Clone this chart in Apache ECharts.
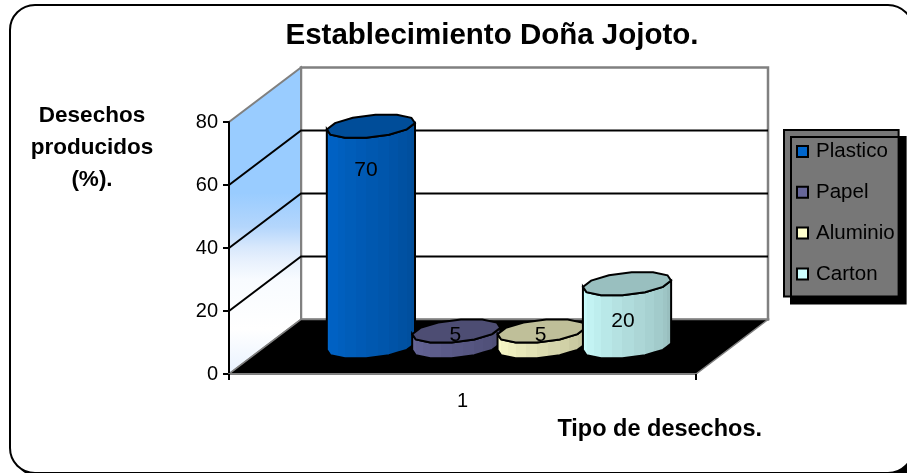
<!DOCTYPE html>
<html>
<head>
<meta charset="utf-8">
<style>html,body{margin:0;padding:0;background:#fff}#c{width:907px;height:473px}</style>
<script src="https://cdn.jsdelivr.net/npm/echarts@6/dist/echarts.min.js"></script>
</head>
<body>
<div id="c"></div>
<script>
const categories = ['1'];
const seriesNames = ['Plastico', 'Papel', 'Aluminio', 'Carton'];
const seriesValues = [70, 5, 5, 20];
const yTicks = [0, 20, 40, 60, 80];

// Styling and projection
const FONT = '"Liberation Sans", Arial, sans-serif';
const sideColors = [[0, 102, 204], [102, 102, 153], [255, 255, 204], [204, 255, 255]];
const DEPTH = [72, -54.5];      // px shift from the front to the back of the plot
const GAP = 1.47;               // gap width in units of a bar
const CAP_DEPTH = 0.44;         // cylinder diameter as a fraction of the plot depth
const DARK = 0.75;
const labelShift = [[-5, 44], [-1, 4], [-1, 4], [-4, 37]];

const rgb = (c, f) => 'rgb(' + c.map(v => Math.round(v * f)).join(',') + ')';

function projector(api) {
  const c = api.coord([0, 0]);
  const band = api.size([1, 0])[0];
  const x0 = c[0] - band / 2;
  return (fx, value, d) => {
    const y = api.coord([0, value])[1];
    return [x0 + band * fx + DEPTH[0] * d, y + DEPTH[1] * d];
  };
}

function renderWalls(params, api) {
  const P = projector(api);
  const top = yTicks[yTicks.length - 1];
  const children = [];
  const grey = '#808080';
  children.push({
    type: 'polygon',
    shape: { points: [P(0, 0, 1), P(1, 0, 1), P(1, top, 1), P(0, top, 1)] },
    style: { fill: '#fff', stroke: grey, lineWidth: 2.5 }
  });
  children.push({
    type: 'polygon',
    shape: { points: [P(0, 0, 0), P(0, 0, 1), P(0, top, 1), P(0, top, 0)] },
    style: {
      stroke: grey, lineWidth: 2,
      fill: {
        type: 'linear', x: 0, y: 0, x2: 0, y2: 1,
        colorStops: [
          { offset: 0, color: '#99ccff' }, { offset: 0.41, color: '#99ccff' },
          { offset: 0.52, color: '#b4d6fc' }, { offset: 0.586, color: '#d8e8fc' },
          { offset: 0.63, color: '#e8f1fd' }, { offset: 0.69, color: '#f8fbff' },
          { offset: 0.85, color: '#ffffff' }, { offset: 1, color: '#e8f2ff' }
        ]
      }
    }
  });
  children.push({
    type: 'polygon',
    shape: { points: [P(0, 0, 0), P(1, 0, 0), P(1, 0, 1), P(0, 0, 1)] },
    style: { fill: '#000', stroke: grey, lineWidth: 1.5 }
  });
  yTicks.slice(1, -1).forEach(v => {
    children.push({
      type: 'polyline',
      shape: { points: [P(0, v, 0), P(0, v, 1), P(1, v, 1)] },
      style: { fill: 'none', stroke: '#000', lineWidth: 2 }
    });
  });
  return { type: 'group', children };
}

function renderBar(idx) {
  return function (params, api) {
    const P = projector(api);
    const value = api.value(1);
    const n = seriesValues.length;
    const unit = 1 / (n + GAP);
    const cx = (GAP / 2 + idx + 0.5) * unit + 0.001;
    const a = unit * 0.485;
    const ring = (v) => {
      const base = P(cx, v, 0.5);
      const band = P(1, v, 0)[0] - P(0, v, 0)[0];
      const pts = [];
      for (let k = 0; k < 12; k++) {
        const t = (15 + 30 * k) * Math.PI / 180;
        pts.push([
          base[0] + band * a * Math.cos(t) + DEPTH[0] * CAP_DEPTH / 2 * Math.sin(t),
          base[1] + DEPTH[1] * CAP_DEPTH / 2 * Math.sin(t)
        ]);
      }
      return pts;
    };
    const topR = ring(value), botR = ring(0);
    // front of the ring, from the left extreme (k=6) round the lower side to the right extreme (k=0)
    const path = [6, 7, 8, 9, 10, 11, 12];
    const mid = (p, q) => [(p[0] + q[0]) / 2, (p[1] + q[1]) / 2];
    const frontTop = [], frontBot = [];
    path.forEach((k, i) => {
      frontTop.push(topR[k % 12]); frontBot.push(botR[k % 12]);
      if (i < path.length - 1) {
        frontTop.push(mid(topR[k % 12], topR[(k + 1) % 12]));
        frontBot.push(mid(botR[k % 12], botR[(k + 1) % 12]));
      }
    });
    const color = sideColors[idx];
    const xL = frontTop[0][0], xR = frontTop[frontTop.length - 1][0];
    const stops = [];
    for (let i = 0; i < frontTop.length - 1; i++) {
      const f = 1 - (1 - DARK) * i / (frontTop.length - 2);
      const c = rgb(color, f);
      stops.push({ offset: (frontTop[i][0] - xL) / (xR - xL), color: c });
      stops.push({ offset: (frontTop[i + 1][0] - xL) / (xR - xL), color: c });
    }
    const children = [];
    children.push({
      type: 'polygon',
      shape: { points: frontTop.concat(frontBot.slice().reverse()) },
      style: {
        stroke: '#000', lineWidth: 2,
        fill: { type: 'linear', global: true, x: xL, y: 0, x2: xR, y2: 0, colorStops: stops }
      }
    });
    children.push({
      type: 'polygon',
      shape: { points: topR },
      style: { fill: rgb(color, DARK), stroke: '#000', lineWidth: 2 }
    });
    const c = P(cx, value, 0.5);
    children.push({
      type: 'text',
      style: {
        text: String(value),
        x: c[0] + labelShift[idx][0], y: c[1] + labelShift[idx][1],
        align: 'center', verticalAlign: 'middle',
        fontFamily: FONT, fontSize: 21, fill: '#000'
      }
    });
    return { type: 'group', children };
  };
}

const chart = echarts.init(document.getElementById('c'), null, { renderer: 'canvas' });
chart.setOption({
  animation: false,
  backgroundColor: '#fff',
  textStyle: { fontFamily: FONT },
  title: {
    text: 'Establecimiento Doña Jojoto.',
    left: 487, top: 16, textAlign: 'center',
    textStyle: { fontFamily: FONT, fontSize: 29.5, fontWeight: 'bold', color: '#000' }
  },
  graphic: [{
    type: 'rect', z: -2,
    shape: { x: 15, y: 10, width: 903, height: 468, r: 25 },
    style: { fill: '#000' }
  }, {
    type: 'rect', z: -1,
    shape: { x: 10, y: 5, width: 903, height: 468, r: 25 },
    style: { fill: '#fff', stroke: '#000', lineWidth: 2 }
  }],
  grid: { left: 229, top: 122, width: 467, height: 252, containLabel: false },
  legend: {
    data: seriesNames,
    orient: 'vertical',
    left: 784, top: 130,
    padding: [11, 4, 12, 12],
    itemGap: 19.8,
    itemWidth: 11, itemHeight: 11,
    icon: 'rect',
    backgroundColor: '#777777',
    borderColor: '#000', borderWidth: 2,
    shadowColor: '#000', shadowOffsetX: 7, shadowOffsetY: 7, shadowBlur: 0,
    textStyle: { fontFamily: FONT, fontSize: 20.5, color: '#000', padding: [0, 0, 0, 3] }
  },
  xAxis: {
    type: 'category',
    data: categories,
    name: 'Tipo de desechos.',
    nameLocation: 'end',
    nameGap: 66,
    nameMoveOverlap: false,
    nameTextStyle: { fontFamily: FONT, fontSize: 23.5, fontWeight: 'bold', color: '#000', align: 'right', verticalAlign: 'top', padding: [44, 0, 0, 0] },
    axisLine: { lineStyle: { color: '#808080', width: 2 } },
    axisTick: { show: true, length: 6, lineStyle: { color: '#000', width: 2 } },
    axisLabel: { fontFamily: FONT, fontSize: 20, color: '#000', margin: 17 },
    z: 5
  },
  yAxis: {
    type: 'value',
    min: 0, max: 80, interval: 20,
    name: 'Desechos\nproducidos\n(%).',
    nameLocation: 'end',
    nameGap: -74,
    nameMoveOverlap: false,
    nameTextStyle: { fontFamily: FONT, fontSize: 22.5, lineHeight: 32, fontWeight: 'bold', color: '#000', align: 'center', verticalAlign: 'bottom', padding: [0, 274, 0, 0] },
    axisLine: { show: true, lineStyle: { color: '#000', width: 2 } },
    axisTick: { show: true, length: 6, lineStyle: { color: '#000', width: 2 } },
    axisLabel: { fontFamily: FONT, fontSize: 20, color: '#000', margin: 11 },
    splitLine: { show: false },
    z: 3
  },
  series: [{
    type: 'custom', name: 'Walls', z: 1, silent: true, clip: false,
    renderItem: renderWalls,
    encode: { x: 0, y: 1 },
    data: [[0, 0]]
  }].concat(seriesNames.map((name, i) => ({
    type: 'custom', name, z: 4 + i, clip: false,
    renderItem: renderBar(i),
    encode: { x: 0, y: 1 },
    itemStyle: { color: rgb(sideColors[i], 1), borderColor: '#000', borderWidth: 2 },
    data: [[0, seriesValues[i]]]
  })))
});
</script>
</body>
</html>
